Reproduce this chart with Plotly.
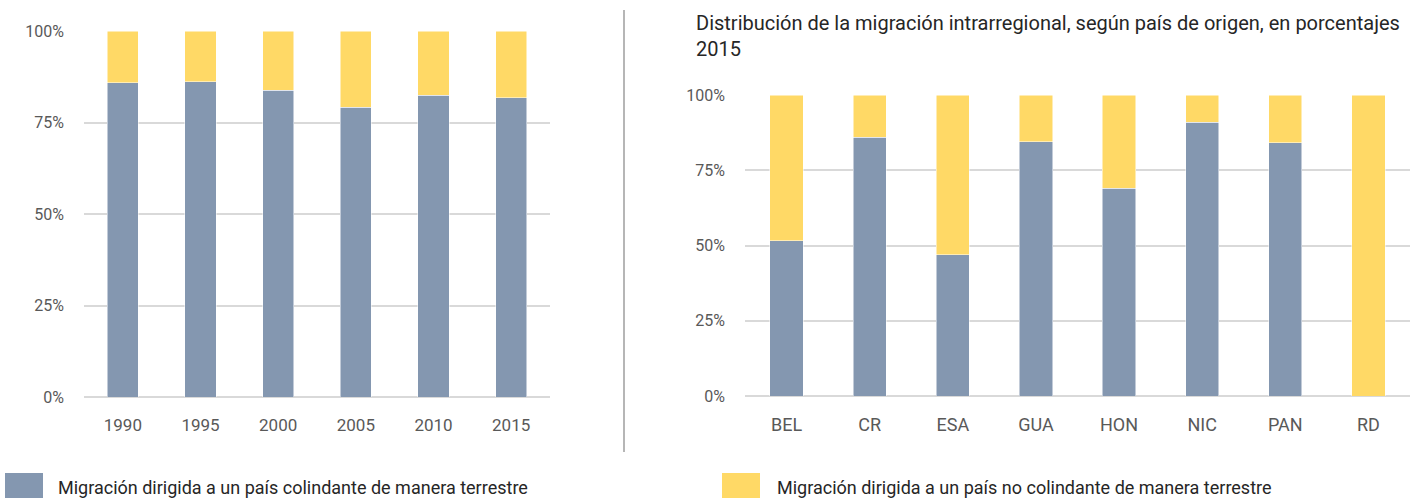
import plotly.graph_objs as go

# Left chart: years, right chart: country of origin (2015)
years = ['1990', '1995', '2000', '2005', '2010', '2015']
years_land = [85.8, 86.2, 83.8, 79.2, 82.5, 81.8]
years_other = [round(100 - v, 1) for v in years_land]

countries = ['BEL', 'CR', 'ESA', 'GUA', 'HON', 'NIC', 'PAN', 'RD']
countries_land = [51.6, 86.0, 46.9, 84.4, 69.1, 91.0, 84.1, 0.0]
countries_other = [round(100 - v, 1) for v in countries_land]

pct_ticks = [0, 25, 50, 75, 100]
pct_labels = ['0%', '25%', '50%', '75%', '100%']

name_land = "Migración dirigida a un país colindante de manera terrestre"
name_other = "Migración dirigida a un país no colindante de manera terrestre"
title_right = "Distribución de la migración intrarregional, según país de origen, en porcentajes<br>2015"

GRAY = '#8497B0'
YELLOW = '#FFD966'
GRID = '#D9D9D9'
TXT = '#595959'
FONT = 'Roboto, sans-serif'

W, H = 1412, 498

fig = go.Figure()

bar_line = dict(color='white', width=0.5)
fig.add_trace(go.Bar(x=years, y=years_land, name=name_land, marker=dict(color=GRAY, line=bar_line),
                     width=0.4, xaxis='x', yaxis='y', showlegend=False))
fig.add_trace(go.Bar(x=years, y=years_other, name=name_other, marker=dict(color=YELLOW, line=bar_line),
                     width=0.4, xaxis='x', yaxis='y', showlegend=False))
fig.add_trace(go.Bar(x=countries, y=countries_land, name=name_land, marker=dict(color=GRAY, line=bar_line),
                     width=0.4, xaxis='x2', yaxis='y2', showlegend=False))
fig.add_trace(go.Bar(x=countries, y=countries_other, name=name_other, marker=dict(color=YELLOW, line=bar_line),
                     width=0.4, xaxis='x2', yaxis='y2', showlegend=False))


def px_x(v):
    return v / W


def px_y(v):
    return 1 - v / H


xcommon = dict(type='category', showgrid=False, zeroline=False, showline=False, ticks='', automargin=False,
               ticklabelstandoff=16)
ycommon = dict(range=[0, 100], tickvals=pct_ticks, ticktext=pct_labels, showgrid=True, gridcolor=GRID,
               gridwidth=1.5, zeroline=True, zerolinecolor=GRID, zerolinewidth=2, showline=False, ticks='',
               automargin=False, tickfont=dict(family=FONT, size=16, color=TXT), ticklabelstandoff=19)

fig.update_layout(
    barmode='stack',
    width=W, height=H,
    margin=dict(l=0, r=0, t=0, b=0, autoexpand=False),
    paper_bgcolor='white', plot_bgcolor='white',
    font=dict(family=FONT, color=TXT),
    xaxis=dict(xcommon, domain=[px_x(84), px_x(550)], anchor='y', range=[-0.5, 5.5],
               tickfont=dict(family=FONT, size=17, color=TXT)),
    yaxis=dict(ycommon, domain=[px_y(397), px_y(31)], anchor='x'),
    xaxis2=dict(xcommon, domain=[px_x(745), px_x(1410)], anchor='y2', range=[-0.5, 7.5],
                tickfont=dict(family=FONT, size=18, color=TXT)),
    yaxis2=dict(ycommon, domain=[px_y(396), px_y(95)], anchor='x2'),
)

# separator between the two panels
fig.add_shape(type='line', xref='paper', yref='paper', x0=px_x(624), x1=px_x(624), y0=px_y(10), y1=px_y(452),
              line=dict(color='#9E9E9E', width=1.5))

# title of the right panel
fig.add_annotation(text=title_right, xref='paper', yref='paper', x=px_x(694), y=px_y(9), xanchor='left',
                   yanchor='top', align='left', showarrow=False,
                   font=dict(family=FONT, size=20, color='#262626'))

# legend drawn by hand: large squares with text
legend_items = [(name_land, GRAY, 5, 56), (name_other, YELLOW, 722, 775)]
for label, color, sx, tx in legend_items:
    fig.add_shape(type='rect', xref='paper', yref='paper', x0=px_x(sx), x1=px_x(sx + 38), y0=px_y(498), y1=px_y(473),
                  fillcolor=color, line=dict(width=0))
    fig.add_annotation(text=label, xref='paper', yref='paper', x=px_x(tx), y=px_y(487), xanchor='left',
                       yanchor='middle', showarrow=False, font=dict(family=FONT, size=18, color='#262626'))

# page body has a default 8px margin; drop it so the figure sits at the corner
fig.write_html("out.html", config={'displayModeBar': False},
               post_script="document.body.style.margin='0px';")
